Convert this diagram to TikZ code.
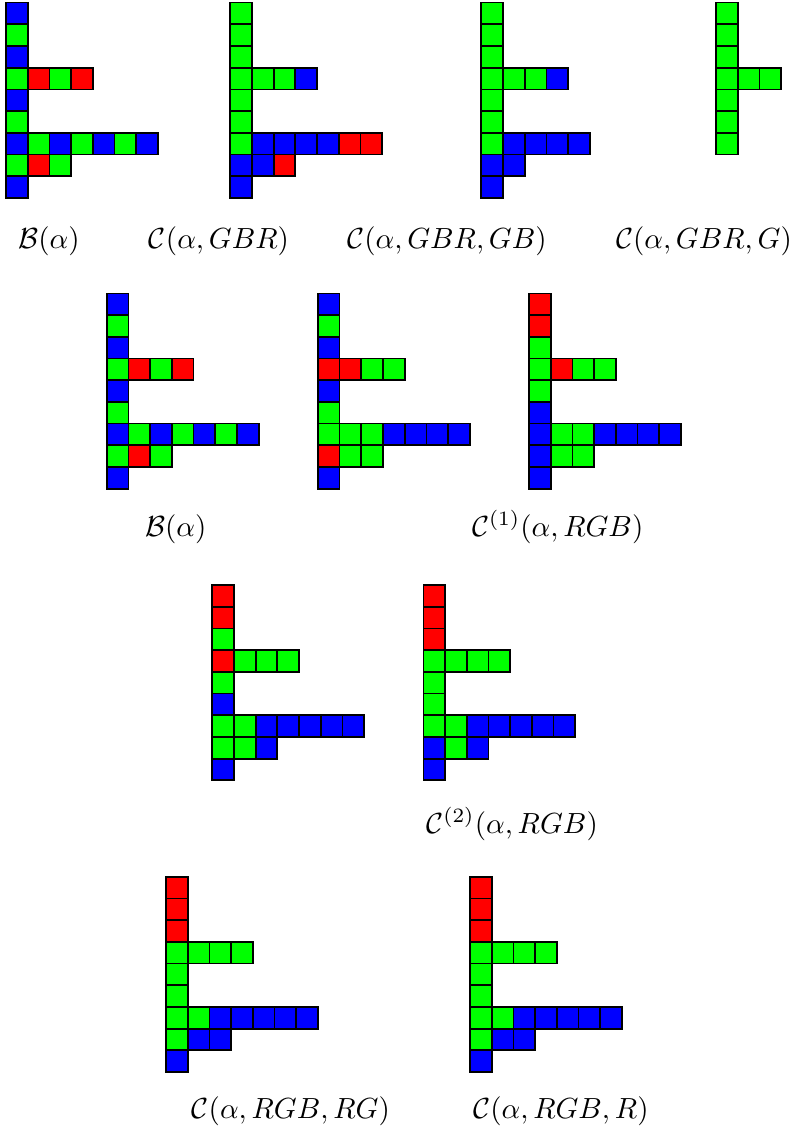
\documentclass[tikz,border=0pt]{standalone}
\usepackage{amsmath}
\usepackage{amssymb}
\usepackage{xcolor}
\usepackage{tikz}
\usetikzlibrary{positioning}

\definecolor{cR}{rgb}{1,0,0}
\definecolor{cG}{rgb}{0,1,0}
\definecolor{cB}{rgb}{0,0,1}

% x, y, column, row 3, row 6, row 7
\newcommand{\tgrid}[6]{%
\foreach \c [count=\i from 0] in {#3} \draw[cell=\c] (#1,#2+\i) rectangle ++(1,1);
\foreach \c [count=\i from 1] in {#4} \draw[cell=\c] (#1+\i,#2+3) rectangle ++(1,1);
\foreach \c [count=\i from 1] in {#5} \draw[cell=\c] (#1+\i,#2+6) rectangle ++(1,1);
\foreach \c [count=\i from 1] in {#6} \draw[cell=\c] (#1+\i,#2+7) rectangle ++(1,1);
}

\begin{document}
\begin{tikzpicture}[x=0.262cm,y=-0.262cm,
  cell/.style={draw=black,line width=0.6pt,fill=c#1},
  lbl/.style={anchor=base,inner sep=0pt}]
\useasboundingbox (0,0) rectangle (36.54,52.21);

% first row
\tgrid{0.28}{0.12}{B,G,B,G,B,G,B,G,B}{R,G,R}{G,B,G,B,G,B}{R,G}
\tgrid{10.61}{0.12}{G,G,G,G,G,G,G,B,B}{G,G,B}{B,B,B,B,R,R}{B,R}
\tgrid{22.18}{0.12}{G,G,G,G,G,G,G,B,B}{G,G,B}{B,B,B,B}{B}
\foreach \c [count=\i from 0] in {G,G,G,G,G,G,G} \draw[cell=\c] (33.0,0.12+\i) rectangle ++(1,1);
\foreach \c [count=\i from 1] in {G,G} \draw[cell=\c] (33.0+\i,3.12) rectangle ++(1,1);
\node (b1) [lbl] at (2.26,11.43) {$\mathcal{B}(\alpha)$};
\node (c1) [lbl] at (10.09,11.43) {$\mathcal{C}(\alpha,GBR)$};
\node (c2) [lbl] at (20.6,11.43) {$\mathcal{C}(\alpha,GBR,GB)$};
\node (c3) [lbl] at (32.44,11.43) {$\mathcal{C}(\alpha,GBR,G)$};

% second row
\tgrid{4.92}{13.52}{B,G,B,G,B,G,B,G,B}{R,G,R}{G,B,G,B,G,B}{R,G}
\tgrid{14.65}{13.52}{B,G,B,R,B,G,G,R,B}{R,G,G}{G,G,B,B,B,B}{G,G}
\tgrid{24.38}{13.52}{R,R,G,G,G,B,B,B,B}{R,G,G}{G,G,B,B,B,B}{G,G}
\node (b2) [lbl] at (8.1,24.7) {$\mathcal{B}(\alpha)$};
\node (c4) [lbl] at (25.7,24.7) {$\mathcal{C}^{(1)}(\alpha,RGB)$};

% third row
\tgrid{9.78}{26.96}{R,R,G,R,G,B,G,G,B}{G,G,G}{G,B,B,B,B,B}{G,B}
\tgrid{19.51}{26.96}{R,R,R,G,G,G,G,B,B}{G,G,G}{G,B,B,B,B,B}{G,B}
\node (c5) [lbl] at (23.6,38.39) {$\mathcal{C}^{(2)}(\alpha,RGB)$};

% fourth row
\tgrid{7.65}{40.4}{R,R,R,G,G,G,G,G,B}{G,G,G}{G,B,B,B,B,B}{B,B}
\tgrid{21.66}{40.4}{R,R,R,G,G,G,G,G,B}{G,G,G}{G,B,B,B,B,B}{B,B}
\node (c6) [lbl] at (13.4,51.55) {$\mathcal{C}(\alpha,RGB,RG)$};
\node (c7) [lbl] at (25.85,51.55) {$\mathcal{C}(\alpha,RGB,R)$};
\end{tikzpicture}
\end{document}
